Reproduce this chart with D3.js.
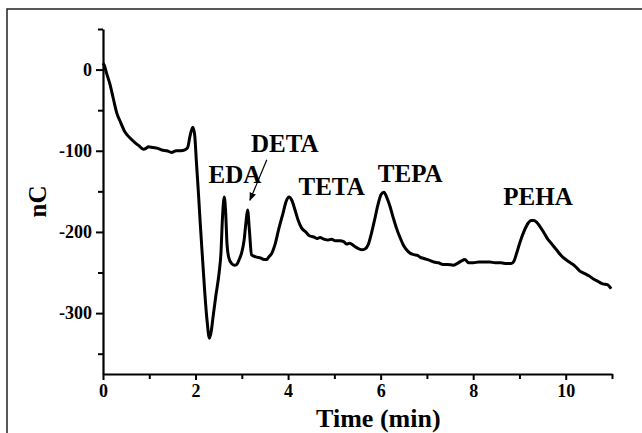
<!DOCTYPE html>
<html>
<head>
<meta charset="utf-8">
<script src="https://cdn.jsdelivr.net/npm/d3@7"></script>
<style>
  body { margin: 0; background: #fff; }
  text { font-family: "Liberation Serif", "Times New Roman", serif; font-weight: bold; }
</style>
</head>
<body>
<svg id="chart"></svg>
<script>
// Chromatogram trace (time in min, charge in nC)
const times = [
  0.00, 0.03, 0.08, 0.15, 0.22, 0.30, 0.38, 0.475, 0.58, 0.69, 0.78, 0.87, 0.93, 0.98,
  1.08, 1.18, 1.27, 1.38, 1.48, 1.58, 1.68, 1.77, 1.83, 1.88, 1.94, 1.98, 2.02, 2.06,
  2.10, 2.15, 2.20, 2.25, 2.30, 2.34, 2.38, 2.44, 2.51, 2.55, 2.58, 2.62, 2.65, 2.68,
  2.72, 2.78, 2.84, 2.89, 2.95, 3.00, 3.05, 3.09, 3.125, 3.16, 3.21, 3.27, 3.32, 3.40,
  3.48, 3.54, 3.58, 3.65, 3.72, 3.80, 3.89, 3.96, 4.02, 4.08, 4.15, 4.22, 4.29, 4.38,
  4.47, 4.55, 4.62, 4.69, 4.78, 4.86, 4.94, 5.02, 5.12, 5.20, 5.27, 5.33, 5.42, 5.50,
  5.59, 5.66, 5.73, 5.80, 5.87, 5.94, 6.01, 6.07, 6.13, 6.20, 6.27, 6.34, 6.42, 6.49,
  6.56, 6.63, 6.72, 6.80, 6.85, 6.95, 7.06, 7.15, 7.25, 7.35, 7.45, 7.57, 7.65, 7.74,
  7.82, 7.90, 8.00, 8.12, 8.24, 8.36, 8.48, 8.60, 8.72, 8.82, 8.88, 8.94, 9.01, 9.10,
  9.19, 9.25, 9.31, 9.37, 9.44, 9.52, 9.60, 9.70, 9.80, 9.90, 10.00, 10.10, 10.20, 10.30,
  10.40, 10.50, 10.60, 10.70, 10.80, 10.90, 10.98
];
const charge = [
  8, 5, -5, -18, -35, -54, -65, -77, -84, -90, -94, -98, -97, -95,
  -96, -97, -99, -100, -102, -100, -100, -99, -96, -82, -71, -80, -115, -150,
  -188, -232, -275, -310, -331, -322, -304, -278, -250, -225, -185, -157, -175, -215,
  -232, -239, -241, -240, -233, -225, -210, -188, -173, -195, -228, -230, -231, -232,
  -234, -234, -231, -226, -215, -196, -177, -162, -157, -161, -173, -186, -195, -200,
  -205, -206, -208, -207, -209, -210, -209, -211, -211, -212, -215, -214, -217, -220,
  -222, -221, -216, -202, -185, -167, -154, -151, -157, -168, -182, -195, -207, -216,
  -222, -226, -228, -229, -231, -233, -235, -237, -238, -240, -240, -241, -239, -236,
  -234, -238, -238, -237, -237, -237, -238, -238, -239, -239, -236, -226, -213, -199,
  -189, -186, -186, -188, -193, -200, -208, -215, -222, -229, -234, -238, -242, -248,
  -251, -254, -258, -261, -264, -265, -270
];

// Axis ticks
const xMajor = [0, 2, 4, 6, 8, 10];
const xMinor = [1, 3, 5, 7, 9, 11];
const yMajor = [0, -100, -200, -300];
const yMinor = [50, -50, -150, -250, -350];

// Peak names and where they sit (min, nC)
const peakNames = ["EDA", "DETA", "TETA", "TEPA", "PEHA"];
const peakLabelT = [2.85, 3.93, 4.94, 6.64, 9.40];
const peakLabelV = [-140, -101, -154, -138, -167];

const width = 642;
const height = 433;
const margin = { top: 29, right: 30, bottom: 59, left: 103 };

const svg = d3.select("#chart").attr("width", width).attr("height", height);

// Outer frame (only top and left edges visible)
svg.append("path")
  .attr("d", `M7,${height} L7,9 L${width},9`)
  .attr("fill", "none")
  .attr("stroke", "#222")
  .attr("stroke-width", 1.5);

const x = d3.scaleLinear().domain([0, 11]).range([margin.left, width - margin.right]);
const y = d3.scaleLinear().domain([-375, 50]).range([height - margin.bottom, margin.top]);

// Arrow head for DETA
svg.append("defs").append("marker")
  .attr("id", "arrow")
  .attr("viewBox", "0 0 10 10")
  .attr("refX", 9)
  .attr("refY", 5)
  .attr("markerWidth", 7)
  .attr("markerHeight", 7)
  .attr("orient", "auto")
  .append("path")
  .attr("d", "M0,1 L10,5 L0,9 Z")
  .attr("fill", "#000");

// Axes
svg.append("g")
  .attr("transform", `translate(0,${y(-375)})`)
  .call(d3.axisBottom(x).tickValues(xMajor).tickSize(6).tickSizeOuter(0).tickPadding(4).tickFormat((d) => String(d)));
svg.append("g")
  .attr("transform", `translate(0,${y(-375)})`)
  .call(d3.axisBottom(x).tickValues(xMinor).tickSize(5).tickSizeOuter(0).tickFormat(""))
  .select(".domain").remove();

svg.append("g")
  .attr("transform", `translate(${x(0)},0)`)
  .call(d3.axisLeft(y).tickValues(yMajor).tickSize(7).tickSizeOuter(0).tickPadding(4).tickFormat((d) => String(d)));
svg.append("g")
  .attr("transform", `translate(${x(0)},0)`)
  .call(d3.axisLeft(y).tickValues(yMinor).tickSize(5).tickSizeOuter(0).tickFormat(""))
  .select(".domain").remove();

svg.selectAll(".domain").attr("stroke", "#000").attr("stroke-width", 2.2);
svg.selectAll(".tick line").attr("stroke", "#000").attr("stroke-width", 2);
svg.selectAll(".tick text")
  .attr("fill", "#000")
  .style("font-size", "18px")
  .style("font-family", '"Liberation Serif", "Times New Roman", serif')
  .style("font-weight", "bold");

// Axis titles (x title sits a little right of the axis centre, as in the source)
svg.append("text")
  .attr("x", x(5.95))
  .attr("y", 427)
  .attr("text-anchor", "middle")
  .style("font-size", "26px")
  .text("Time (min)");

svg.append("text")
  .attr("transform", `translate(46,${(y(50) + y(-375)) / 2}) rotate(-90)`)
  .attr("text-anchor", "middle")
  .style("font-size", "25px")
  .text("nC");

// Trace
const points = times.map((t, i) => [t, charge[i]]);
const line = d3.line()
  .x((d) => x(d[0]))
  .y((d) => y(d[1]))
  .curve(d3.curveMonotoneX);

svg.append("path")
  .datum(points)
  .attr("d", line)
  .attr("fill", "none")
  .attr("stroke", "#000")
  .attr("stroke-width", 3)
  .attr("stroke-linejoin", "round");

// Peak labels
peakNames.forEach((name, i) => {
  svg.append("text")
    .attr("x", x(peakLabelT[i]))
    .attr("y", y(peakLabelV[i]))
    .attr("text-anchor", "middle")
    .style("font-size", "25px")
    .text(name);
});

// Arrow from DETA label down to its peak
svg.append("line")
  .attr("x1", x(3.54))
  .attr("y1", y(-111))
  .attr("x2", x(3.175))
  .attr("y2", y(-161))
  .attr("stroke", "#000")
  .attr("stroke-width", 1.2)
  .attr("marker-end", "url(#arrow)");
</script>
</body>
</html>
